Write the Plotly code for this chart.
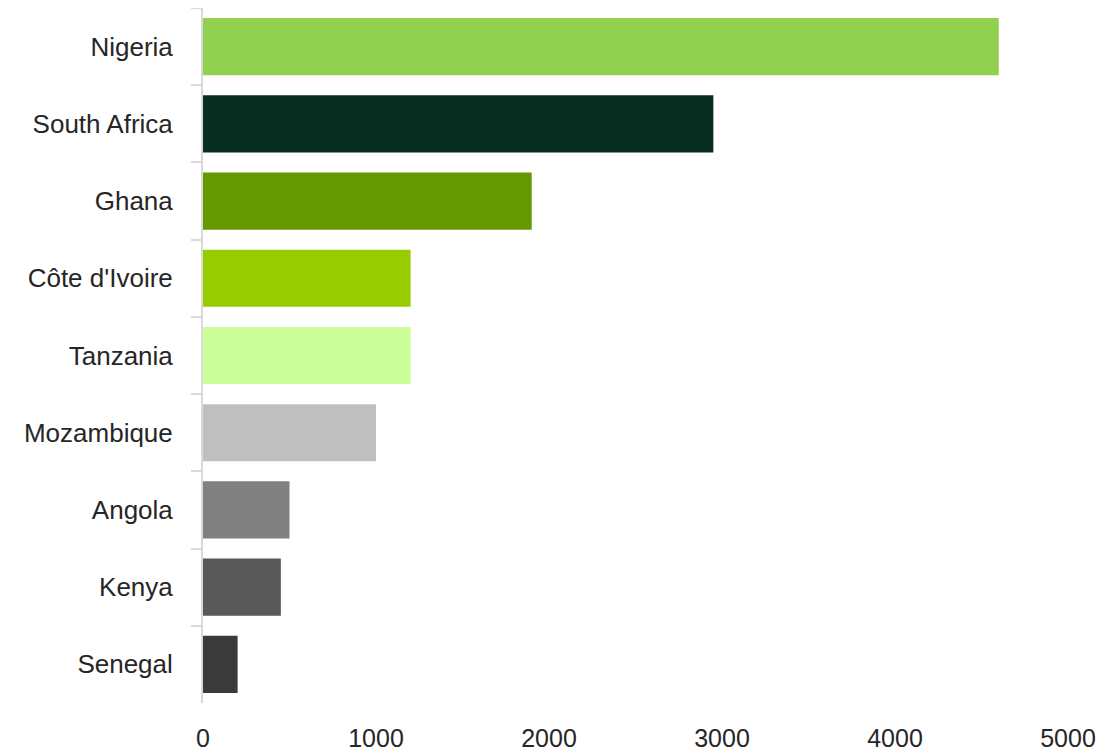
import plotly.graph_objects as go

countries = ["Nigeria", "South Africa", "Ghana", "Côte d'Ivoire", "Tanzania",
             "Mozambique", "Angola", "Kenya", "Senegal"]
values = [4600, 2950, 1900, 1200, 1200, 1000, 500, 450, 200]
colors = ["#92D050", "#082E22", "#669900", "#99CC00", "#CCFF99",
          "#BFBFBF", "#808080", "#595959", "#3A3A3A"]
x_ticks = [0, 1000, 2000, 3000, 4000, 5000]

FONT = "Liberation Sans, Arial, sans-serif"

fig = go.Figure(go.Bar(
    x=values, y=countries, orientation="h",
    marker=dict(color=colors, line=dict(width=0)),
))

fig.update_layout(
    width=1120, height=756,
    margin=dict(l=195, r=60, t=0, b=61),
    paper_bgcolor="white", plot_bgcolor="white",
    bargap=0.26, showlegend=False,
    font=dict(family=FONT, color="#262626"),
)
fig.update_xaxes(
    range=[0, 5000], tickvals=x_ticks, ticktext=[str(v) for v in x_ticks],
    showgrid=False, zeroline=False, showline=False, ticks="",
    tickfont=dict(size=25, family=FONT, color="#262626"),
    ticklabelstandoff=18, automargin=False,
)
fig.update_yaxes(
    autorange="reversed", categoryorder="array", categoryarray=countries,
    showgrid=False, zeroline=False, showline=True, linecolor="#D9D9D9", linewidth=2,
    ticks="outside", tickson="boundaries", ticklen=10, tickwidth=2, tickcolor="#D9D9D9",
    tickfont=dict(size=26, family=FONT, color="#262626"),
    ticklabelstandoff=23, automargin=False,
)

fig.write_html("out.html")
